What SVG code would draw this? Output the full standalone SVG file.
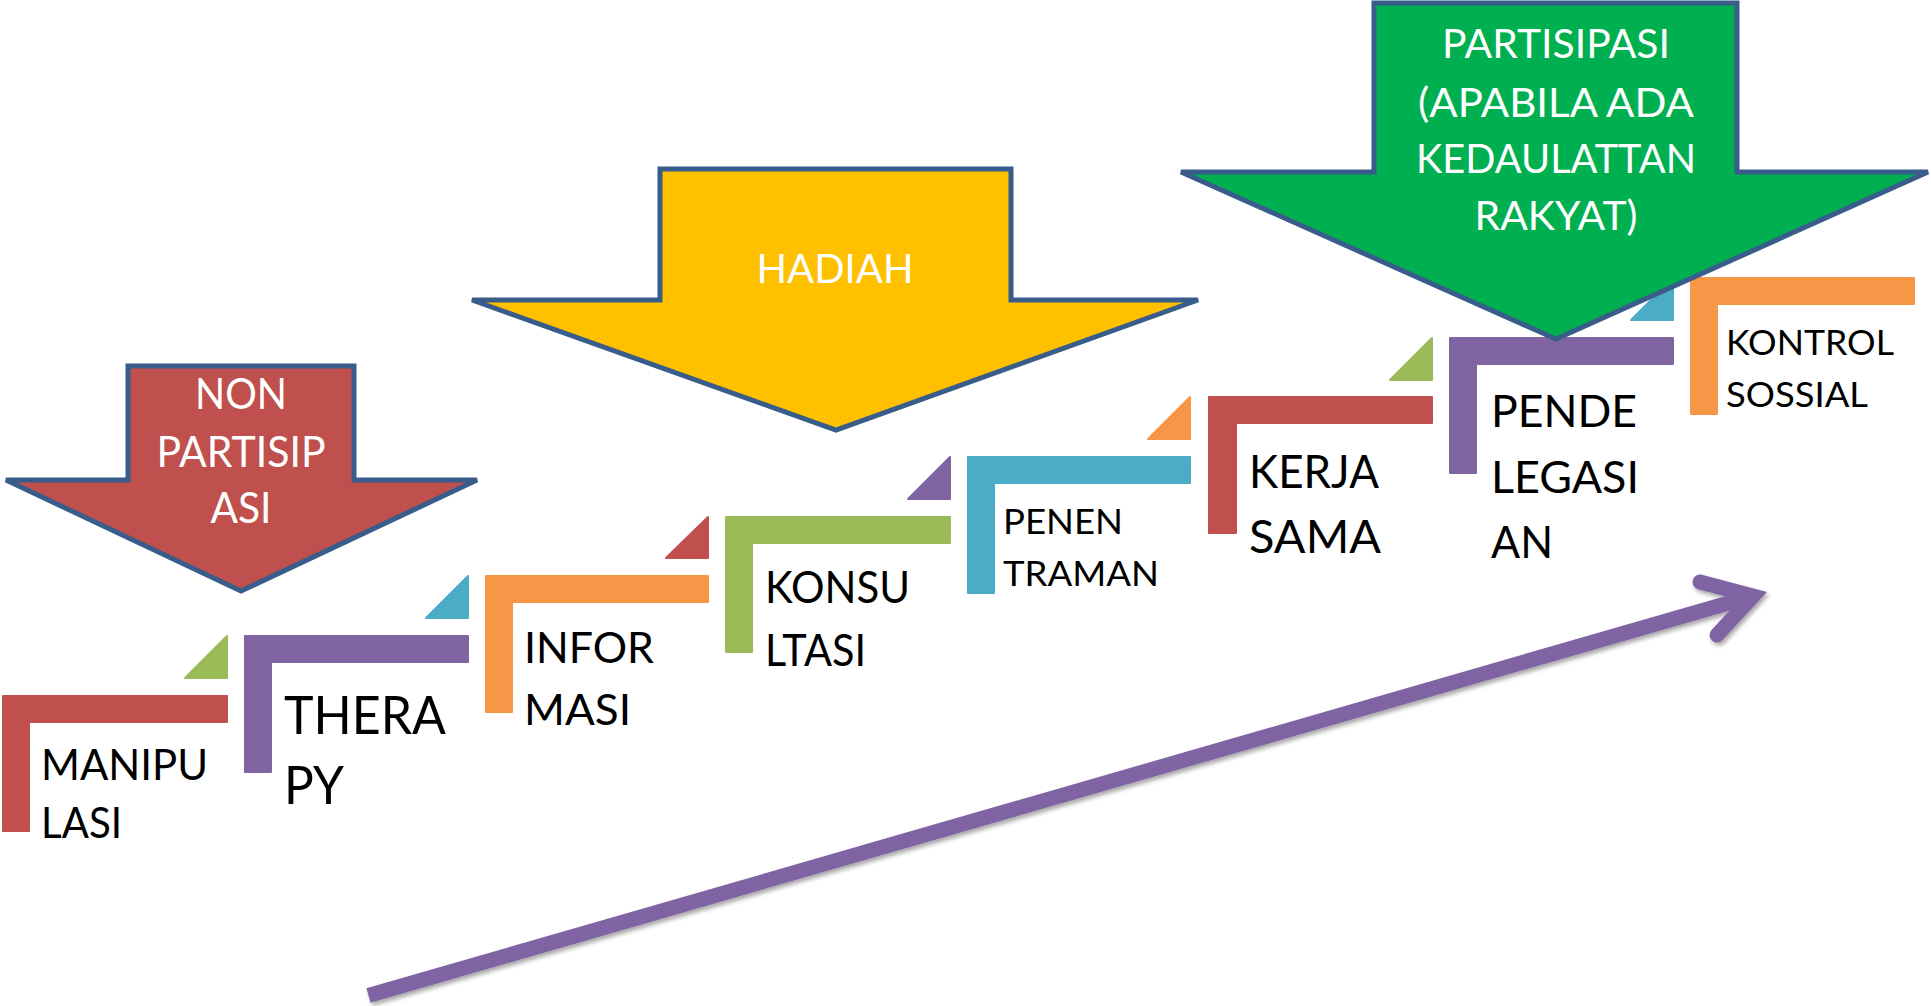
<svg xmlns="http://www.w3.org/2000/svg" width="1931" height="1006" viewBox="0 0 1931 1006">
<style>
.red{fill:#C0504D;stroke:#C0504D}
.pur{fill:#8064A2;stroke:#8064A2}
.ora{fill:#F79646;stroke:#F79646}
.grn{fill:#9BBB59;stroke:#9BBB59}
.blu{fill:#4BACC6;stroke:#4BACC6}
.step{stroke-width:2;stroke-linejoin:round}
.blk{stroke:#385D8A;stroke-width:5;stroke-linejoin:miter}
.lbl{font-family:Lato,"Open Sans","Liberation Sans",sans-serif;fill:#000}
.wht{font-family:Lato,"Open Sans","Liberation Sans",sans-serif;fill:#fff;text-anchor:middle}
</style>
<defs>
<filter id="sh" x="-5%" y="-20%" width="110%" height="140%">
<feDropShadow dx="2" dy="3" stdDeviation="2" flood-color="#000" flood-opacity="0.35"/>
</filter>
</defs>
<rect width="1931" height="1006" fill="#fff"/>

<g id="step-manipulasi">
<path class="red step" d="M3,696 H227 V722 H29 V831 H3 Z"/>
<polygon class="grn step" points="185,678 227,678 227,636"/>
<text class="lbl" font-size="42"><tspan x="41" y="780" textLength="167" lengthAdjust="spacingAndGlyphs">MANIPU</tspan><tspan x="41" y="838" textLength="81" lengthAdjust="spacingAndGlyphs">LASI</tspan></text>
</g>
<g id="step-therapy">
<path class="pur step" d="M245,636 H468 V662 H271 V772 H245 Z"/>
<polygon class="blu step" points="426,618 468,618 468,576"/>
<text class="lbl" font-size="52"><tspan x="284" y="734" textLength="162" lengthAdjust="spacingAndGlyphs">THERA</tspan><tspan x="284" y="804" textLength="60" lengthAdjust="spacingAndGlyphs">PY</tspan></text>
</g>
<g id="step-informasi">
<path class="ora step" d="M486,576 H708 V602 H512 V712 H486 Z"/>
<polygon class="red step" points="666,558 708,558 708,517"/>
<text class="lbl" font-size="43"><tspan x="524" y="663" textLength="130" lengthAdjust="spacingAndGlyphs">INFOR</tspan><tspan x="524" y="725" textLength="107" lengthAdjust="spacingAndGlyphs">MASI</tspan></text>
</g>
<g id="step-konsultasi">
<path class="grn step" d="M726,517 H950 V543 H752 V652 H726 Z"/>
<polygon class="pur step" points="908,499 950,499 950,457"/>
<text class="lbl" font-size="44"><tspan x="765" y="603" textLength="145" lengthAdjust="spacingAndGlyphs">KONSU</tspan><tspan x="765" y="666" textLength="101" lengthAdjust="spacingAndGlyphs">LTASI</tspan></text>
</g>
<g id="step-penentraman">
<path class="blu step" d="M968,457 H1190 V483 H994 V593 H968 Z"/>
<polygon class="ora step" points="1148,439 1190,439 1190,397"/>
<text class="lbl" font-size="35"><tspan x="1003" y="534" textLength="120" lengthAdjust="spacingAndGlyphs">PENEN</tspan><tspan x="1003" y="586" textLength="156" lengthAdjust="spacingAndGlyphs">TRAMAN</tspan></text>
</g>
<g id="step-kerjasama">
<path class="red step" d="M1209,397 H1432 V423 H1236 V533 H1209 Z"/>
<polygon class="grn step" points="1390,380 1432,380 1432,338"/>
<text class="lbl" font-size="46"><tspan x="1249" y="488" textLength="130" lengthAdjust="spacingAndGlyphs">KERJA</tspan><tspan x="1249" y="553" textLength="132" lengthAdjust="spacingAndGlyphs">SAMA</tspan></text>
</g>
<g id="step-pendelegasian">
<path class="pur step" d="M1450,338 H1673 V364 H1476 V473 H1450 Z"/>
<polygon class="blu step" points="1631,320 1673,320 1673,278"/>
<text class="lbl" font-size="45"><tspan x="1491" y="427" textLength="146" lengthAdjust="spacingAndGlyphs">PENDE</tspan><tspan x="1491" y="493" textLength="148" lengthAdjust="spacingAndGlyphs">LEGASI</tspan><tspan x="1491" y="558" textLength="62" lengthAdjust="spacingAndGlyphs">AN</tspan></text>
</g>
<g id="step-kontrolsosial">
<path class="ora step" d="M1691,278 H1914 V304 H1717 V414 H1691 Z"/>
<text class="lbl" font-size="35"><tspan x="1726" y="355" textLength="168" lengthAdjust="spacingAndGlyphs">KONTROL</tspan><tspan x="1726" y="407" textLength="142" lengthAdjust="spacingAndGlyphs">SOSSIAL</tspan></text>
</g>

<g id="arrow-nonpartisipasi">
<polygon class="blk" fill="#C0504D" points="128,366 354,366 354,480 477,480 241,591 6,480 128,480"/>
<text class="wht" font-size="43"><tspan x="241" y="409" textLength="92" lengthAdjust="spacingAndGlyphs">NON</tspan><tspan x="241" y="467" textLength="169" lengthAdjust="spacingAndGlyphs">PARTISIP</tspan><tspan x="241" y="523" textLength="61" lengthAdjust="spacingAndGlyphs">ASI</tspan></text>
</g>
<g id="arrow-hadiah">
<polygon class="blk" fill="#FFC000" points="660,169 1011,169 1011,300 1198,300 836,430 472,300 660,300"/>
<text class="wht" font-size="40.5" x="835" y="283" textLength="157" lengthAdjust="spacingAndGlyphs">HADIAH</text>
</g>
<g id="arrow-partisipasi">
<polygon class="blk" fill="#00B050" points="1374,3 1737,3 1737,172 1928,172 1556,339 1181,172 1374,172"/>
<text class="wht" font-size="40.5"><tspan x="1556" y="58" textLength="228" lengthAdjust="spacingAndGlyphs">PARTISIPASI</tspan><tspan x="1556" y="117" textLength="276" lengthAdjust="spacingAndGlyphs">(APABILA ADA</tspan><tspan x="1556" y="173" textLength="280" lengthAdjust="spacingAndGlyphs">KEDAULATTAN</tspan><tspan x="1556" y="230" textLength="163" lengthAdjust="spacingAndGlyphs">RAKYAT)</tspan></text>
</g>

<g id="connectors" filter="url(#sh)" stroke="#8064A2" fill="none">
<line x1="368.5" y1="995.5" x2="1753" y2="596" stroke-width="15" stroke-linecap="butt"/>
<polyline points="1700,582 1753,596 1717,635" stroke-width="15" stroke-linecap="round" stroke-linejoin="miter" stroke-miterlimit="6"/>
</g>
</svg>
